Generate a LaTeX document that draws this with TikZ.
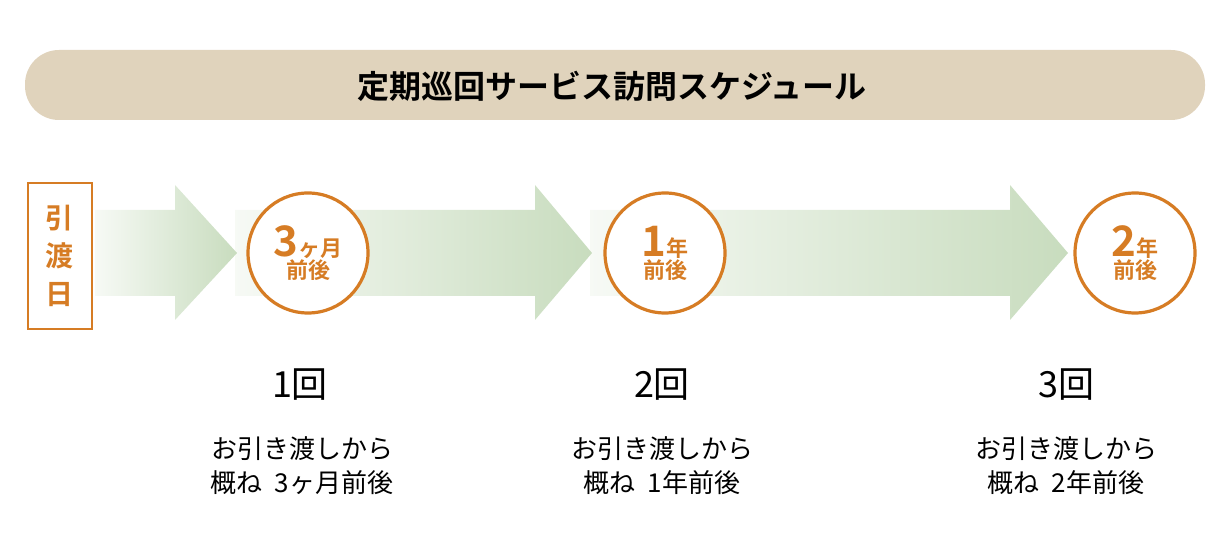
\documentclass[tikz,border=0pt]{standalone}
\usepackage{fontspec}
\setmainfont{Noto Sans CJK JP}
\newfontfamily\jpbold{Noto Sans CJK JP Bold}
\usetikzlibrary{positioning}
\definecolor{beige}{RGB}{224,211,188}
\definecolor{orng}{RGB}{214,124,36}
\definecolor{leaf}{RGB}{200,220,190}
\tikzset{
  stepcircle/.style={circle,draw=orng,line width=1.6pt,fill=white,minimum size=60pt,inner sep=0pt,align=center,text=orng,font=\jpbold\fontsize{11}{12}\selectfont},
  caption/.style={align=center,font=\fontsize{13}{17}\selectfont}
}
\newcommand{\flowarrow}[3]{% start, head base, tip
  \shade[left color=leaf!15,right color=leaf] (#1,210)--(#2,210)--(#2,185)--(#3,253)--(#2,320)--(#2,296)--(#1,296)--cycle;}

\begin{document}
\begin{tikzpicture}[x=0.5pt,y=-0.5pt]
  \useasboundingbox (0,0) rectangle (1220,560);
  \fill[beige,rounded corners=17pt] (25,50) rectangle (1205,120);
  \node[font=\jpbold\fontsize{16}{16}\selectfont] (title) at (612,86) {定期巡回サービス訪問スケジュール};

  % arrows
  \flowarrow{590}{1010}{1068}
  \flowarrow{235}{535}{592}
  \flowarrow{95}{175}{237}

  \node[draw=orng,line width=1.3pt,fill=white,minimum width=32pt,minimum height=73pt,align=center,text=orng,font=\jpbold\fontsize{14}{19}\selectfont] (start) at (60,256) {引\\渡\\日};

  \node[stepcircle] (c1) at (308,253) {{\fontsize{21}{21}\selectfont 3}ヶ月\\[-1pt]前後};
  \node[stepcircle] (c2) at (665,253) {{\fontsize{21}{21}\selectfont 1}年\\[-1pt]前後};
  \node[stepcircle] (c3) at (1135,253) {{\fontsize{21}{21}\selectfont 2}年\\[-1pt]前後};

  \node[font=\fontsize{18}{18}\selectfont] (n1) at (300,385) {1回};
  \node[font=\fontsize{18}{18}\selectfont] (n2) at (662,385) {2回};
  \node[font=\fontsize{18}{18}\selectfont] (n3) at (1066,385) {3回};
  \node[caption] (t1) at (302,466) {お引き渡しから\\概ね\ \ 3ヶ月前後};
  \node[caption] (t2) at (662,466) {お引き渡しから\\概ね\ \ 1年前後};
  \node[caption] (t3) at (1066,466) {お引き渡しから\\概ね\ \ 2年前後};
\end{tikzpicture}
\end{document}
